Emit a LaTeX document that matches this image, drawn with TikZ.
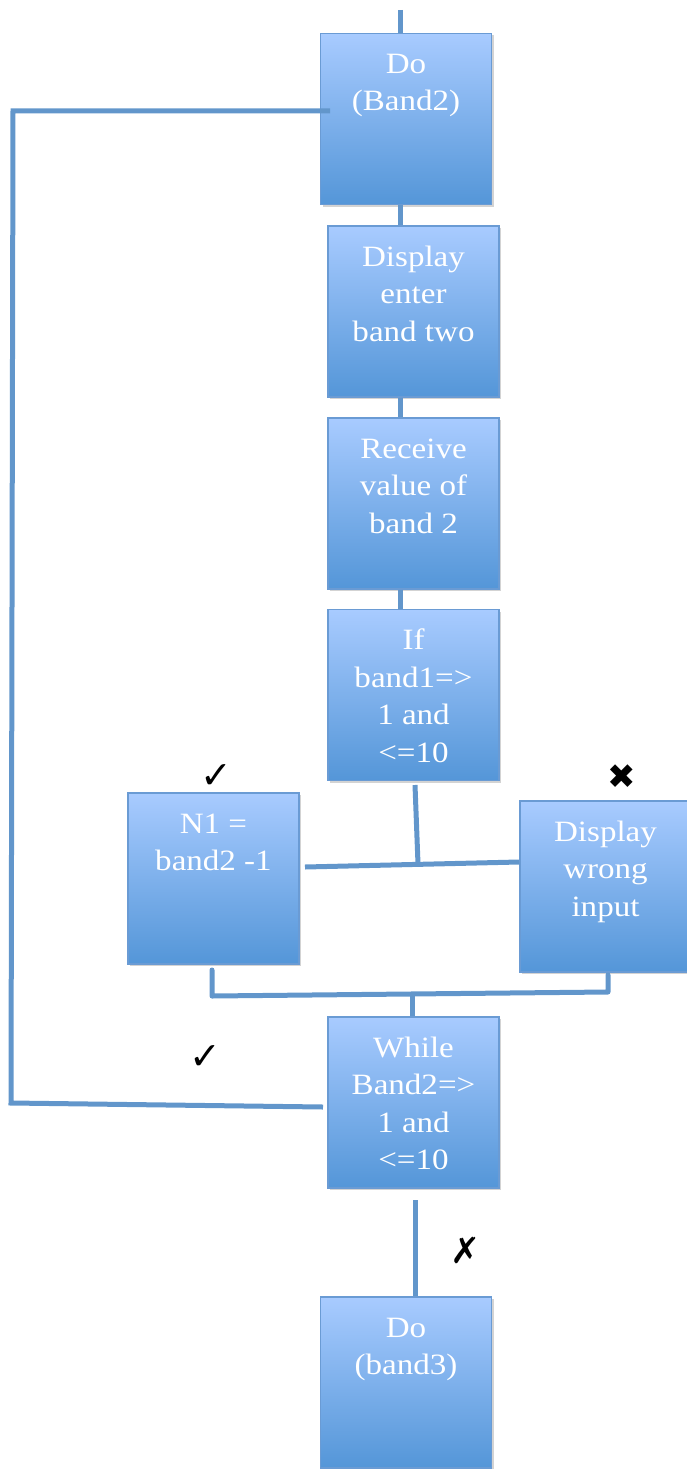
\documentclass[tikz,border=0pt]{standalone}
\usepackage{fontspec}
\setmainfont{Liberation Serif}[FakeStretch=1.12]
\newfontfamily\symfont{DejaVu Sans}
\usetikzlibrary{shadows}
\definecolor{linec}{RGB}{98,150,203}
\definecolor{boxtop}{RGB}{168,203,255}
\definecolor{boxbot}{RGB}{84,150,216}
\definecolor{boxedge}{RGB}{106,155,212}
\newcommand\bxt[1]{\parbox[c][171pt][t]{171pt}{\centering\fontsize{29.5}{37.5}\selectfont\rule{0pt}{40pt}#1}}
\tikzset{
  flowbox/.style={draw=boxedge, line width=1.5pt, top color=boxtop, bottom color=boxbot,
    inner sep=0pt, text=white,
    drop shadow={opacity=0.35, shadow xshift=2pt, shadow yshift=-2pt}},
  conn/.style={draw=linec, line width=5pt},
  tick/.style={font=\symfont\fontsize{38}{38}\selectfont, text=black, inner sep=0pt}
}
\begin{document}
\begin{tikzpicture}[x=1pt,y=-1pt]
\useasboundingbox (0,0) rectangle (686,1469);
% boxes
\node[flowbox] (b1) at (406,119) {\bxt{Do\\(Band2)}};
\node[flowbox] (b2) at (413.5,311.5) {\bxt{Display\\enter\\band two}};
\node[flowbox] (b3) at (413.5,503.5) {\bxt{Receive\\value of\\band 2}};
\node[flowbox] (b4) at (413.5,695) {\bxt{If\\band1=>\\1 and\\<=10}};
\node[flowbox] (b5) at (213.5,878.5) {\bxt{N1 =\\band2 -1}};
\node[flowbox] (b6) at (605.5,886.5) {\bxt{Display\\wrong\\input}};
\node[flowbox] (b7) at (413.5,1102.5) {\bxt{While\\Band2=>\\1 and\\<=10}};
\node[flowbox] (b8) at (406,1382.5) {\bxt{Do\\(band3)}};
% connector points
\coordinate (start) at (400,10);
\coordinate (l1) at (330,111);
\coordinate (l2) at (13,111);
\coordinate (l3) at (11,1103);
\coordinate (l4) at (323,1107);
\coordinate (i1) at (415,785);
\coordinate (i2) at (418,864);
\coordinate (h1) at (305,867);
\coordinate (h2) at (519,862);
\coordinate (m1) at (212,970);
\coordinate (m2) at (212,996);
\coordinate (m3) at (608,992);
\coordinate (m4) at (608,975);
\coordinate (j1) at (412,994);
\coordinate (w1) at (415,1200);
% connectors
\draw[conn] (start) -- (start |- b1.north);
\draw[conn] ([xshift=-6pt]b1.south) -- ([xshift=-6pt]b1.south |- b2.north);
\draw[conn] ([xshift=-13.5pt]b2.south) -- ([xshift=-13.5pt]b2.south |- b3.north);
\draw[conn] ([xshift=-13.5pt]b3.south) -- ([xshift=-13.5pt]b3.south |- b4.north);
\draw[conn, line join=miter] (l1) -- (l2) -- (l3) -- (l4);
\draw[conn] (i1) -- (i2);
\draw[conn] (h1) -- (h2);
\draw[conn, line join=round, line cap=round] (m1) -- (m2) -- (m3) -- (m4);
\draw[conn] (j1) -- (j1 |- b7.north);
\draw[conn] (w1) -- (w1 |- b8.north);
% marks
\node[tick] (c1) at (216,777) {✓};
\node[tick, font=\symfont\fontsize{34}{34}\selectfont] (c2) at (622,777) {✖};
\node[tick] (c3) at (205,1058) {✓};
\node[tick, font=\symfont\fontsize{36}{36}\selectfont] (c4) at (466,1250) {✗};
\end{tikzpicture}
\end{document}
